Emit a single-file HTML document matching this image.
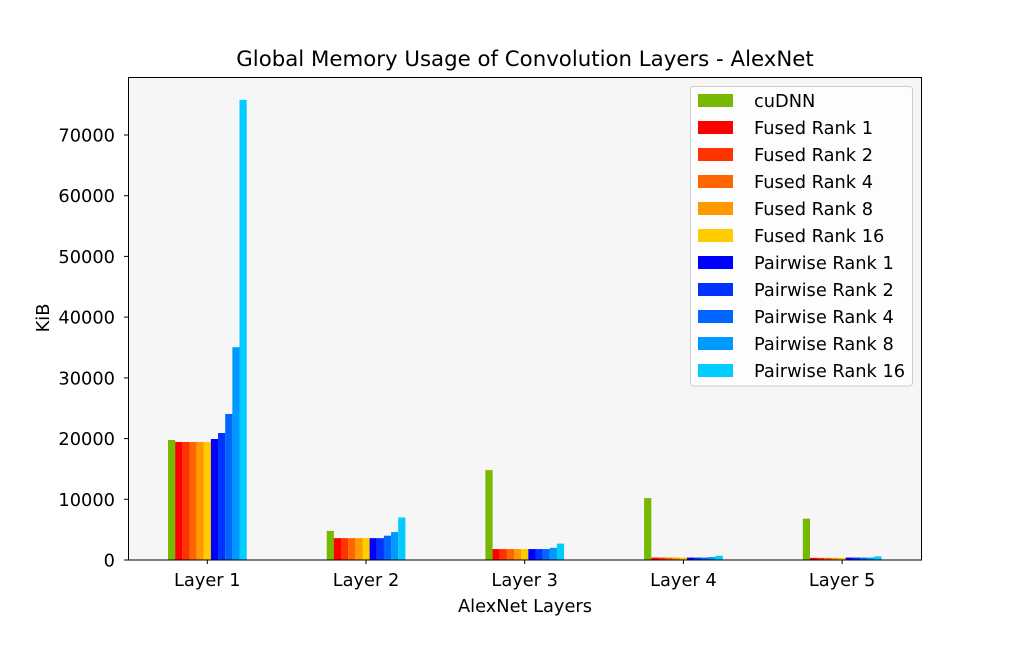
<!DOCTYPE html>
<html><head><meta charset="utf-8"><style>
html,body{margin:0;padding:0;background:#fff;}
svg text{font-family:"DejaVu Sans","Liberation Sans",sans-serif;fill:#000;}
</style></head><body>
<svg width="1024" height="640" viewBox="0 0 1024 640" xmlns="http://www.w3.org/2000/svg">
<rect x="0" y="0" width="1024" height="640" fill="#fff"/>
<rect x="128" y="77" width="794" height="483" fill="#f6f6f6"/>
<g transform="translate(0,560) scale(1,-0.006071)">
 <g transform="translate(168,0)">
  <rect x="0" y="0" width="7.2" height="19770" fill="#76b900"/>
  <rect x="7.15" y="0" width="7.2" height="19440" fill="#ff0000"/>
  <rect x="14.3" y="0" width="7.2" height="19440" fill="#ff3300"/>
  <rect x="21.45" y="0" width="7.2" height="19440" fill="#ff6600"/>
  <rect x="28.6" y="0" width="7.2" height="19440" fill="#ff9900"/>
  <rect x="35.75" y="0" width="7.2" height="19440" fill="#ffcc00"/>
  <rect x="42.9" y="0" width="7.2" height="19930" fill="#0000ff"/>
  <rect x="50.05" y="0" width="7.2" height="20920" fill="#0033ff"/>
  <rect x="57.2" y="0" width="7.2" height="24050" fill="#0066ff"/>
  <rect x="64.35" y="0" width="7.2" height="35050" fill="#0099ff"/>
  <rect x="71.5" y="0" width="7.2" height="75800" fill="#00ccff"/>
 </g>
 <g transform="translate(326.7,0)">
  <rect x="0" y="0" width="7.2" height="4800" fill="#76b900"/>
  <rect x="7.15" y="0" width="7.2" height="3600" fill="#ff0000"/>
  <rect x="14.3" y="0" width="7.2" height="3600" fill="#ff3300"/>
  <rect x="21.45" y="0" width="7.2" height="3600" fill="#ff6600"/>
  <rect x="28.6" y="0" width="7.2" height="3600" fill="#ff9900"/>
  <rect x="35.75" y="0" width="7.2" height="3600" fill="#ffcc00"/>
  <rect x="42.9" y="0" width="7.2" height="3600" fill="#0000ff"/>
  <rect x="50.05" y="0" width="7.2" height="3600" fill="#0033ff"/>
  <rect x="57.2" y="0" width="7.2" height="4000" fill="#0066ff"/>
  <rect x="64.35" y="0" width="7.2" height="4600" fill="#0099ff"/>
  <rect x="71.5" y="0" width="7.2" height="7000" fill="#00ccff"/>
 </g>
 <g transform="translate(485.4,0)">
  <rect x="0" y="0" width="7.2" height="14800" fill="#76b900"/>
  <rect x="7.15" y="0" width="7.2" height="1800" fill="#ff0000"/>
  <rect x="14.3" y="0" width="7.2" height="1800" fill="#ff3300"/>
  <rect x="21.45" y="0" width="7.2" height="1800" fill="#ff6600"/>
  <rect x="28.6" y="0" width="7.2" height="1800" fill="#ff9900"/>
  <rect x="35.75" y="0" width="7.2" height="1800" fill="#ffcc00"/>
  <rect x="42.9" y="0" width="7.2" height="1800" fill="#0000ff"/>
  <rect x="50.05" y="0" width="7.2" height="1800" fill="#0033ff"/>
  <rect x="57.2" y="0" width="7.2" height="1800" fill="#0066ff"/>
  <rect x="64.35" y="0" width="7.2" height="2000" fill="#0099ff"/>
  <rect x="71.5" y="0" width="7.2" height="2700" fill="#00ccff"/>
 </g>
 <g transform="translate(644.1,0)">
  <rect x="0" y="0" width="7.2" height="10200" fill="#76b900"/>
  <rect x="7.15" y="0" width="7.2" height="400" fill="#ff0000"/>
  <rect x="14.3" y="0" width="7.2" height="400" fill="#ff3300"/>
  <rect x="21.45" y="0" width="7.2" height="400" fill="#ff6600"/>
  <rect x="28.6" y="0" width="7.2" height="400" fill="#ff9900"/>
  <rect x="35.75" y="0" width="7.2" height="400" fill="#ffcc00"/>
  <rect x="42.9" y="0" width="7.2" height="400" fill="#0000ff"/>
  <rect x="50.05" y="0" width="7.2" height="400" fill="#0033ff"/>
  <rect x="57.2" y="0" width="7.2" height="400" fill="#0066ff"/>
  <rect x="64.35" y="0" width="7.2" height="500" fill="#0099ff"/>
  <rect x="71.5" y="0" width="7.2" height="700" fill="#00ccff"/>
 </g>
 <g transform="translate(802.8,0)">
  <rect x="0" y="0" width="7.2" height="6800" fill="#76b900"/>
  <rect x="7.15" y="0" width="7.2" height="350" fill="#ff0000"/>
  <rect x="14.3" y="0" width="7.2" height="350" fill="#ff3300"/>
  <rect x="21.45" y="0" width="7.2" height="350" fill="#ff6600"/>
  <rect x="28.6" y="0" width="7.2" height="350" fill="#ff9900"/>
  <rect x="35.75" y="0" width="7.2" height="350" fill="#ffcc00"/>
  <rect x="42.9" y="0" width="7.2" height="400" fill="#0000ff"/>
  <rect x="50.05" y="0" width="7.2" height="400" fill="#0033ff"/>
  <rect x="57.2" y="0" width="7.2" height="400" fill="#0066ff"/>
  <rect x="64.35" y="0" width="7.2" height="400" fill="#0099ff"/>
  <rect x="71.5" y="0" width="7.2" height="600" fill="#00ccff"/>
 </g>
</g>
<rect x="128.5" y="77.5" width="793" height="482.5" fill="none" stroke="#000" stroke-width="1"/>
<g stroke="#000" stroke-width="1">
 <line x1="124" x2="128" y1="560" y2="560"/>
 <line x1="124" x2="128" y1="499.3" y2="499.3"/>
 <line x1="124" x2="128" y1="438.6" y2="438.6"/>
 <line x1="124" x2="128" y1="377.9" y2="377.9"/>
 <line x1="124" x2="128" y1="317.1" y2="317.1"/>
 <line x1="124" x2="128" y1="256.4" y2="256.4"/>
 <line x1="124" x2="128" y1="195.7" y2="195.7"/>
 <line x1="124" x2="128" y1="135" y2="135"/>
 <line x1="207.3" x2="207.3" y1="560" y2="564"/>
 <line x1="366" x2="366" y1="560" y2="564"/>
 <line x1="524.7" x2="524.7" y1="560" y2="564"/>
 <line x1="683.4" x2="683.4" y1="560" y2="564"/>
 <line x1="842.1" x2="842.1" y1="560" y2="564"/>
</g>
<g font-size="17.8" text-anchor="end">
 <text x="115" y="566.5">0</text>
 <text x="115" y="505.8">10000</text>
 <text x="115" y="445.1">20000</text>
 <text x="115" y="384.4">30000</text>
 <text x="115" y="323.6">40000</text>
 <text x="115" y="262.9">50000</text>
 <text x="115" y="202.2">60000</text>
 <text x="115" y="141.5">70000</text>
</g>
<g font-size="17.8" text-anchor="middle">
 <text x="207.3" y="586">Layer 1</text>
 <text x="366" y="586">Layer 2</text>
 <text x="524.7" y="586">Layer 3</text>
 <text x="683.4" y="586">Layer 4</text>
 <text x="842.1" y="586">Layer 5</text>
 <text x="525" y="612">AlexNet Layers</text>
 <text x="525" y="66" font-size="21.3">Global Memory Usage of Convolution Layers - AlexNet</text>
 <text transform="translate(49,318) rotate(-90)">KiB</text>
</g>
<rect x="690.5" y="86.5" width="222" height="299.5" rx="3" fill="#fff" fill-opacity="0.8" stroke="#cccccc"/>
<g font-size="17.8">
 <rect x="698" y="94" width="35" height="13" fill="#76b900"/><text x="754" y="107">cuDNN</text>
 <rect x="698" y="121" width="35" height="13" fill="#ff0000"/><text x="754" y="134">Fused Rank 1</text>
 <rect x="698" y="148" width="35" height="13" fill="#ff3300"/><text x="754" y="161">Fused Rank 2</text>
 <rect x="698" y="175" width="35" height="13" fill="#ff6600"/><text x="754" y="188">Fused Rank 4</text>
 <rect x="698" y="202" width="35" height="13" fill="#ff9900"/><text x="754" y="215">Fused Rank 8</text>
 <rect x="698" y="229" width="35" height="13" fill="#ffcc00"/><text x="754" y="242">Fused Rank 16</text>
 <rect x="698" y="256" width="35" height="13" fill="#0000ff"/><text x="754" y="269">Pairwise Rank 1</text>
 <rect x="698" y="283" width="35" height="13" fill="#0033ff"/><text x="754" y="296">Pairwise Rank 2</text>
 <rect x="698" y="310" width="35" height="13" fill="#0066ff"/><text x="754" y="323">Pairwise Rank 4</text>
 <rect x="698" y="337" width="35" height="13" fill="#0099ff"/><text x="754" y="350">Pairwise Rank 8</text>
 <rect x="698" y="364" width="35" height="13" fill="#00ccff"/><text x="754" y="377">Pairwise Rank 16</text>
</g>
</svg>
</body></html>
